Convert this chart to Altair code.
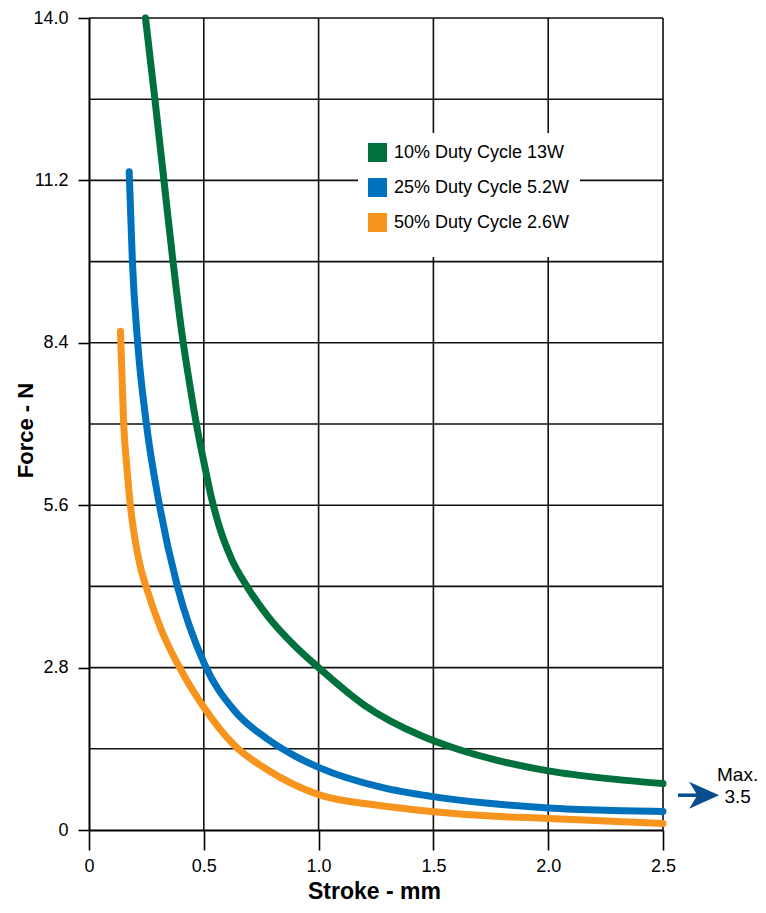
import altair as alt
import pandas as pd

# ---------------- data ----------------
series_names = ["10% Duty Cycle 13W", "25% Duty Cycle 5.2W", "50% Duty Cycle 2.6W"]
series_colors = ["#00703C", "#0071BC", "#F7941D"]

green_x = [0.246, 0.287, 0.325, 0.363, 0.405, 0.44, 0.47, 0.5, 0.532, 0.57, 0.62, 0.691,
           0.78, 0.9, 1.0, 1.2, 1.45, 1.6, 1.8, 2.0, 2.25, 2.5]
green_y = [14.0, 12.6, 11.25, 9.9, 8.55, 7.65, 6.95, 6.35, 5.75, 5.2, 4.68, 4.18,
           3.68, 3.16, 2.8, 2.15, 1.62, 1.4, 1.18, 1.02, 0.89, 0.80]

blue_x = [0.175, 0.189, 0.212, 0.25, 0.307, 0.385, 0.503, 0.633, 0.78, 0.9, 1.0,
          1.28, 1.49, 1.74, 2.0, 2.25, 2.5]
blue_y = [11.35, 9.8, 8.4, 7.0, 5.6, 4.2, 2.86, 2.06, 1.56, 1.27, 1.08,
          0.73, 0.58, 0.46, 0.38, 0.34, 0.32]

orange_x = [0.137, 0.151, 0.165, 0.18, 0.2, 0.225, 0.254, 0.313, 0.41, 0.503, 0.633, 0.78,
            1.0, 1.25, 1.49, 1.75, 2.0, 2.25, 2.5]
orange_y = [8.6, 7.0, 6.25, 5.6, 5.02, 4.52, 4.13, 3.47, 2.69, 2.1, 1.46, 1.03,
            0.61, 0.43, 0.32, 0.24, 0.20, 0.155, 0.11]

x_ticks = [0, 0.5, 1.0, 1.5, 2.0, 2.5]
y_ticks = [0, 2.8, 5.6, 8.4, 11.2, 14.0]
x_grid = [0.5, 1.0, 1.5, 2.0, 2.5]
y_grid = [1.4, 2.8, 4.2, 5.6, 7.0, 8.4, 9.8, 11.2, 12.6, 14.0]

note_texts = ["Max.", "3.5"]
note_text_x = [2.825, 2.825]
note_text_y = [0.95, 0.57]
arrow_x = [2.565, 2.665]
arrow_y = 0.60
arrow_head_x = 2.679

# ---------------- tables ----------------
rows = []
for name, xs, ys in zip(series_names, [green_x, blue_x, orange_x], [green_y, blue_y, orange_y]):
    for i, (a, b) in enumerate(zip(xs, ys)):
        rows.append({"series": name, "stroke": a, "force": b, "i": i})
curves = pd.DataFrame(rows)

xg = pd.DataFrame({"x": x_grid})
yg = pd.DataFrame({"y": y_grid})
notes = pd.DataFrame({"x": note_text_x, "y": note_text_y, "t": note_texts})
shaft = pd.DataFrame({"x": [arrow_x[0]], "x2": [arrow_x[1]], "y": [arrow_y]})
head = pd.DataFrame({"x": [arrow_head_x], "y": [arrow_y]})

FONT = "Liberation Sans"

xscale = alt.Scale(domain=[0, 2.5], nice=False, zero=False)
yscale = alt.Scale(domain=[0, 14.0], nice=False, zero=False)

x_axis = alt.Axis(
    values=x_ticks, grid=False, tickSize=20, tickColor="black", tickWidth=1.6,
    domainColor="black", domainWidth=2, labelFontSize=18, labelFont=FONT,
    labelColor="black", labelPadding=7, labelExpr="datum.value == 0 ? '0' : format(datum.value, '.1f')",
    title="Stroke - mm", titleFont=FONT, titleFontSize=23, titleFontWeight="bold",
    titleColor="black", titleX=285, titleY=68, titleAlign="center", titleBaseline="alphabetic",
    labelFlush=False,
)
y_axis = alt.Axis(
    values=y_ticks, grid=False, tickSize=11, tickColor="black", tickWidth=1.6,
    domainColor="black", domainWidth=2, labelFontSize=18, labelFont=FONT,
    labelColor="black", labelPadding=10, labelExpr="datum.value == 0 ? '0' : format(datum.value, '.1f')",
    title="Force - N", titleFont=FONT, titleFontSize=22, titleFontWeight="bold",
    titleColor="black", titleX=-57, titleY=412, titleAlign="center", titleBaseline="alphabetic",
    titleAngle=270, labelFlush=False,
)

xgrid_layer = alt.Chart(xg).mark_rule(color="#111111", strokeWidth=1.6).encode(
    x=alt.X("x:Q", scale=xscale, axis=x_axis)
)
ygrid_layer = alt.Chart(yg).mark_rule(color="#111111", strokeWidth=1.6).encode(
    y=alt.Y("y:Q", scale=yscale, axis=y_axis)
)

lines = alt.Chart(curves).mark_line(strokeWidth=7, strokeCap="round", strokeJoin="round",
                                    interpolate="monotone").encode(
    x=alt.X("stroke:Q", scale=xscale, axis=x_axis),
    y=alt.Y("force:Q", scale=yscale, axis=y_axis),
    color=alt.Color("series:N", scale=alt.Scale(domain=series_names, range=series_colors),
                    sort=series_names,
                    legend=alt.Legend(
                        title=None, orient="none", legendX=269, legendY=115,
                        symbolType="square", symbolSize=81, symbolStrokeWidth=10,
                        symbolOpacity=1, labelFontSize=18, labelFont=FONT, labelColor="black",
                        labelOffset=7, rowPadding=-14, fillColor="white", padding=10,
                        labelLimit=400,
                    )),
    order="i:Q",
)

shaft_layer = alt.Chart(shaft).mark_rule(color="#0A4D8C", strokeWidth=3.5).encode(
    x=alt.X("x:Q", scale=xscale), x2="x2:Q", y=alt.Y("y:Q", scale=yscale)
)
head_layer = alt.Chart(head).mark_point(
    shape="M -1 -0.9 L 1 0 L -1 0.9 L -0.45 0 Z", size=900, filled=True,
    color="#0A4D8C", opacity=1, strokeWidth=0,
).encode(x=alt.X("x:Q", scale=xscale), y=alt.Y("y:Q", scale=yscale))

text_layer = alt.Chart(notes).mark_text(font=FONT, fontSize=19, color="black",
                                        align="center", baseline="middle").encode(
    x=alt.X("x:Q", scale=xscale), y=alt.Y("y:Q", scale=yscale), text="t:N"
)

chart = alt.layer(xgrid_layer, ygrid_layer, lines, shaft_layer, head_layer, text_layer).properties(
    width=574, height=812,
    autosize=alt.AutoSizeParams(type="none"),
    padding={"left": 81, "top": 10, "right": 95, "bottom": 75},
).configure_view(strokeWidth=0).configure(background="white")

chart.save("out.html", embed_options={"renderer": "svg", "actions": False})
